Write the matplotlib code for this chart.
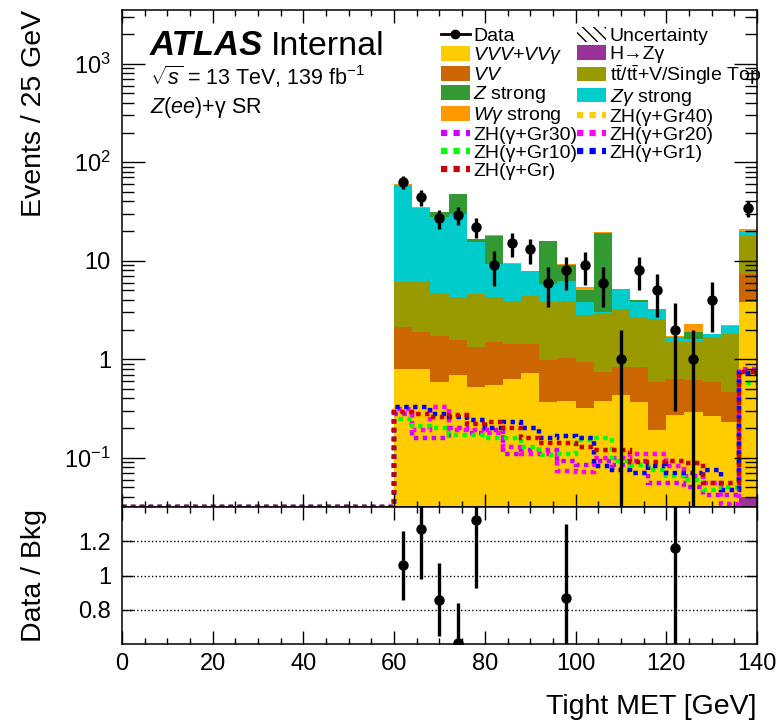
import numpy as np
import matplotlib
matplotlib.use('Agg')
import matplotlib.pyplot as plt
from matplotlib.patches import Patch
from matplotlib.lines import Line2D
from matplotlib.ticker import FixedLocator, FixedFormatter, MultipleLocator, LogLocator, NullFormatter

plt.rcParams['font.family'] = ['Liberation Sans', 'DejaVu Sans']
plt.rcParams['mathtext.fontset'] = 'custom'
plt.rcParams['mathtext.rm'] = 'Liberation Sans'
plt.rcParams['mathtext.it'] = 'Liberation Sans:italic'
plt.rcParams['mathtext.bf'] = 'Liberation Sans:bold'

# binning: 4 GeV bins, backgrounds only filled from 60 GeV
edges = np.arange(60, 144, 4)
centers = edges[:-1] + 2
sig_edges = np.arange(0, 144, 4)
n_empty = 15  # empty bins below 60 GeV

# background components (bottom -> top of stack)
bkg_hzg = [0, 0, 0, 0, 0, 0, 0, 0, 0, 0, 0, 0, 0, 0, 0, 0, 0, 0, 0, 0.04]
bkg_vvv = [0.80, 0.80, 0.59, 0.69, 0.52, 0.55, 0.63, 0.72, 0.37, 0.38,
           0.32, 0.38, 0.43, 0.37, 0.19, 0.27, 0.29, 0.265, 0.23, 3.74]
bkg_vv = [1.31, 1.08, 1.15, 0.86, 0.81, 0.94, 0.81, 0.72, 0.61, 0.64,
          0.61, 0.36, 0.41, 0.47, 0.40, 0.36, 0.32, 0.325, 0.24, 3.57]
bkg_top = [3.94, 4.17, 3.00, 2.73, 3.23, 2.79, 2.46, 2.98, 2.80, 2.88,
           1.89, 2.24, 2.41, 1.83, 1.98, 0.88, 0.88, 1.08, 1.34, 10.55]
bkg_zg = [52.9, 28.2, 23.0, 25.3, 11.0, 4.92, 5.4, 3.48, 2.08, 2.3,
          1.02, 0.04, 1.91, 1.11, 0.63, 0.19, 0.13, 0.14, 0.34, 2.2]
bkg_z = [0, 0, 3.2, 18.0, 1.1, 8.7, 0, 0, 10.0, 2.9,
         1.25, 16.3, 0, 0.22, 0, 0, 0.26, 0, 0, 0]
bkg_wg = [0.5, 0.5, 0.1, 0.2, 0.1, 0.3, 0.1, 0.05, 0.05, 0.1,
          0.28, 0.05, 0.04, 0.02, 0.02, 0.02, 0.41, 0.01, 0.1, 0.7]

# signal hypotheses
sig_gr40 = [0.30, 0.26, 0.24, 0.22, 0.21, 0.20, 0.17, 0.15, 0.13, 0.12,
            0.11, 0.10, 0.10, 0.09, 0.08, 0.075, 0.07, 0.06, 0.05, 0.70]
sig_gr30 = [0.28, 0.16, 0.16, 0.20, 0.18, 0.19, 0.11, 0.12, 0.12, 0.093,
            0.084, 0.093, 0.084, 0.093, 0.056, 0.056, 0.051, 0.042, 0.042, 0.76]
sig_gr20 = [0.31, 0.19, 0.33, 0.19, 0.19, 0.18, 0.13, 0.11, 0.11, 0.073,
            0.071, 0.10, 0.10, 0.11, 0.11, 0.082, 0.065, 0.056, 0.034, 0.80]
sig_gr10 = [0.25, 0.21, 0.20, 0.17, 0.17, 0.16, 0.16, 0.13, 0.107, 0.11,
            0.15, 0.16, 0.093, 0.084, 0.075, 0.065, 0.06, 0.047, 0.051, 0.58]
sig_gr1 = [0.33, 0.33, 0.28, 0.26, 0.24, 0.20, 0.23, 0.20, 0.16, 0.165,
           0.16, 0.082, 0.075, 0.07, 0.082, 0.07, 0.07, 0.075, 0.047, 0.72]
sig_gr = [0.29, 0.28, 0.26, 0.27, 0.22, 0.23, 0.20, 0.16, 0.14, 0.14,
          0.13, 0.12, 0.12, 0.09, 0.09, 0.093, 0.088, 0.056, 0.056, 0.75]

# data
data = np.array([63, 44, 27, 29, 22, 9, 15, 13, 6, 8,
                 9, 6, 1, 8, 5, 2, 1, 4, 0, 34], dtype=float)
data_err = np.array([10, 8, 6, 6, 5, 3.5, 4, 3.7, 2.6, 3,
                     3.3, 2.6, 1.0, 3, 2.3, 1.7, 1.0, 2.1, 0, 6])

# ratio panel points (only those inside the range)
ratio_x = [62, 66, 70, 74, 78, 98, 122]
ratio_val = [1.06, 1.27, 0.86, 0.61, 1.32, 0.87, 1.16]
ratio_err = [0.20, 0.29, 0.21, 0.23, 0.39, 0.43, 0.65]

ymin, ymax = 0.032, 3500

fig = plt.figure(figsize=(7.77, 7.23), dpi=100)
ax = fig.add_axes([0.1570, 0.2994, 0.8172, 0.6867])
rax = fig.add_axes([0.1570, 0.1086, 0.8172, 0.1908])

stack = [(bkg_hzg, '#993399'), (bkg_vvv, '#FFCC00'), (bkg_vv, '#CC6600'),
         (bkg_top, '#999900'), (bkg_zg, '#00CCCC'), (bkg_z, '#339933'),
         (bkg_wg, '#FF9900')]
bottom = np.full(len(centers), 1e-4)
for vals, c in stack:
    top = bottom + np.array(vals)
    ax.stairs(top, edges, baseline=bottom, fill=True, color=c, lw=0)
    bottom = top

signals = [(sig_gr40, '#FFCC00'), (sig_gr30, '#CC00FF'), (sig_gr20, '#FF00FF'),
           (sig_gr10, '#00FF00'), (sig_gr1, '#0000FF'), (sig_gr, '#CC0000')]
for vals, c in signals:
    full = np.concatenate([np.zeros(n_empty), vals])
    ax.stairs(np.clip(full, ymin, None), sig_edges, baseline=None, color=c,
              lw=3.2, linestyle=(0, (1, 1)))

mask = data > 0
lo = np.minimum(data_err, data * 0.999)
ax.errorbar(centers[mask], data[mask], yerr=[lo[mask], data_err[mask]], fmt='o',
            color='black', ms=6.5, lw=2.4, capsize=0, zorder=10)

ax.set_yscale('log')
ax.set_xlim(0, 140)
ax.set_ylim(ymin, ymax)
ax.yaxis.set_major_locator(FixedLocator([0.1, 1, 10, 100, 1000]))
ax.yaxis.set_major_formatter(FixedFormatter([r'$10^{-1}$', '1', '10', r'$10^{2}$', r'$10^{3}$']))
ax.yaxis.set_minor_locator(LogLocator(subs=np.arange(2, 10)))
ax.yaxis.set_minor_formatter(NullFormatter())

for a in (ax, rax):
    a.xaxis.set_major_locator(MultipleLocator(20))
    a.xaxis.set_minor_locator(MultipleLocator(5))
    a.tick_params(which='both', direction='in', top=True, right=True, width=1,
                  labelsize=17)
    for s in a.spines.values():
        s.set_linewidth(1.1)

ax.tick_params(axis='y', which='major', length=16.5, pad=8)
ax.tick_params(axis='y', which='minor', length=8.6)
ax.tick_params(axis='x', which='major', length=9.4)
ax.tick_params(axis='x', which='minor', length=4.3)
ax.tick_params(labelbottom=False)

ax.set_ylabel('Events / 25 GeV', fontsize=20.5, loc='top')
ax.yaxis.set_label_coords(-0.118, 1.0)

ax.text(0.044, 0.91, 'ATLAS', transform=ax.transAxes, fontsize=25,
        fontweight='bold', fontstyle='italic', va='baseline')
ax.text(0.234, 0.91, 'Internal', transform=ax.transAxes, fontsize=24.5, va='baseline')
ax.text(0.044, 0.849, r'$\sqrt{s}$ = 13 TeV, 139 fb$^{-1}$', transform=ax.transAxes,
        fontsize=15.5, va='baseline')
ax.text(0.044, 0.792, r'$Z(ee)$+γ SR', transform=ax.transAxes, fontsize=15.5, va='baseline')

def sig_handle(c):
    return Line2D([], [], color=c, lw=4.5, linestyle=(0, (1, 1)))

handles = [
    Line2D([], [], color='black', marker='o', ms=6, lw=2),
    Patch(facecolor='#FFCC00'),
    Patch(facecolor='#CC6600'),
    Patch(facecolor='#339933'),
    Patch(facecolor='#FF9900'),
    sig_handle('#CC00FF'),
    sig_handle('#00FF00'),
    sig_handle('#CC0000'),
    Patch(facecolor='none', edgecolor='black', lw=0, hatch='\\\\\\'),
    Patch(facecolor='#993399'),
    Patch(facecolor='#999900'),
    Patch(facecolor='#00CCCC'),
    sig_handle('#FFCC00'),
    sig_handle('#FF00FF'),
    sig_handle('#0000FF'),
]
labels = [
    'Data', r'$VVV$+$VV\gamma$', r'$VV$', r'$Z$ strong', r'$W\gamma$ strong',
    'ZH(γ+Gr30)', 'ZH(γ+Gr10)', 'ZH(γ+Gr)',
    'Uncertainty', 'H→Zγ',
    r't$\bar{\mathrm{t}}$/t$\bar{\mathrm{t}}$+V/Single Top', r'$Z\gamma$ strong',
    'ZH(γ+Gr40)', 'ZH(γ+Gr20)', 'ZH(γ+Gr1)',
]
ax.legend(handles, labels, ncol=2, loc='upper left', bbox_to_anchor=(0.503, 0.965),
          frameon=False, fontsize=14, borderpad=0, borderaxespad=0,
          handlelength=1.45, handleheight=0.75, handletextpad=0.2,
          columnspacing=0.0, labelspacing=0.0)

# ratio panel
for v in (0.8, 1.0, 1.2):
    rax.axhline(v, ls=':', color='black', lw=1)
rax.errorbar(ratio_x, ratio_val, yerr=ratio_err, fmt='o', color='black', ms=6.5,
             lw=2.4, capsize=0, zorder=10)
rax.set_xlim(0, 140)
rax.set_ylim(0.6, 1.4)
rax.yaxis.set_major_locator(FixedLocator([0.8, 1.0, 1.2]))
rax.yaxis.set_major_formatter(FixedFormatter(['0.8', '1', '1.2']))
rax.tick_params(axis='y', which='major', length=8, pad=8)
rax.tick_params(axis='x', which='major', length=9.4, pad=6)
rax.tick_params(axis='x', which='minor', length=4.3)
rax.set_ylabel('Data / Bkg', fontsize=20.5)
rax.yaxis.set_label_coords(-0.118, 0.5)
rax.set_xlabel('Tight MET [GeV]', fontsize=20.5, loc='right')
rax.xaxis.set_label_coords(1.0, -0.36)

fig.savefig('out.png', dpi=100)
